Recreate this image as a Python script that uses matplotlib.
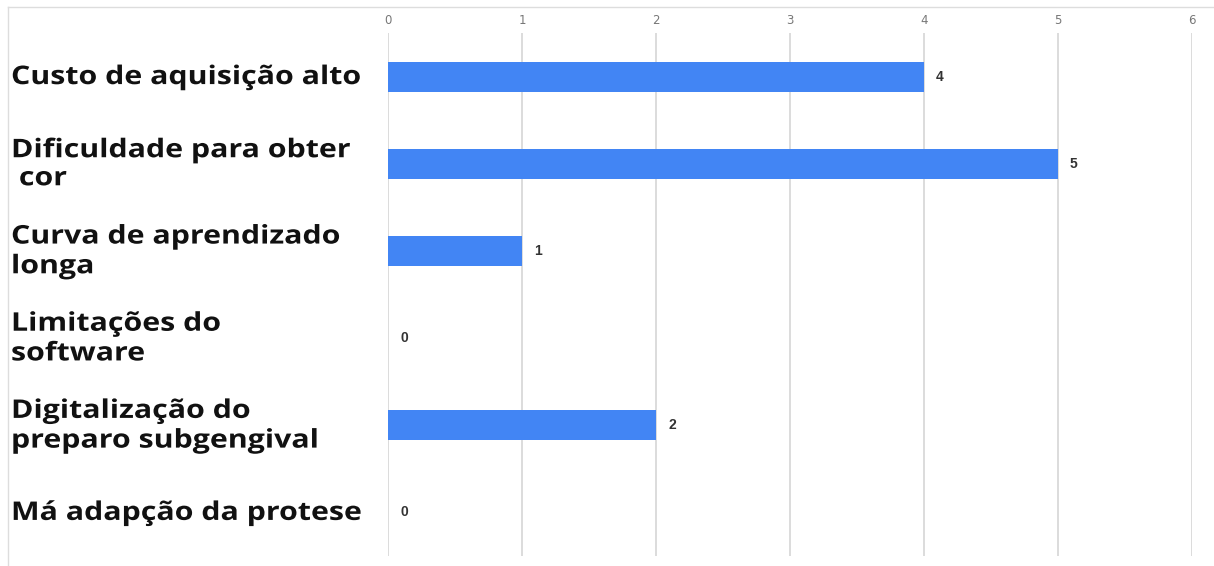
import matplotlib.pyplot as plt
from matplotlib.lines import Line2D
from matplotlib import transforms
from matplotlib.patheffects import AbstractPathEffect

categorias = [
    "Custo de aquisição alto",
    "Dificuldade para obter\n cor",
    "Curva de aprendizado\nlonga",
    "Limitações do\nsoftware",
    "Digitalização do\npreparo subgengival",
    "Má adapção da protese",
]
valores = [4, 5, 1, 0, 2, 0]
ticks_x = [0, 1, 2, 3, 4, 5, 6]


class Alargar(AbstractPathEffect):
    """Estica o texto na horizontal a partir de x0 (pixels)."""

    def __init__(self, sx, x0):
        super().__init__()
        self.sx = sx
        self.x0 = x0

    def draw_path(self, renderer, gc, tpath, affine, rgbFace=None):
        a = affine + transforms.Affine2D().translate(-self.x0, 0).scale(self.sx, 1).translate(self.x0, 0)
        renderer.draw_path(gc, tpath, a, rgbFace)


W, H = 1214, 566
fig = plt.figure(figsize=(W / 100, H / 100), dpi=100)
ax = fig.add_axes([388 / W, 1 - 556 / H, (1192 - 388) / W, (556 - 33) / H])

pos = list(range(len(categorias)))
ax.barh(pos, valores, height=0.345, color="#4285f4", zorder=2)

ax.set_xlim(0, 6)
ax.set_ylim(len(categorias) - 0.5, -0.5)
ax.set_xticks(ticks_x)
ax.xaxis.tick_top()
ax.tick_params(axis="x", length=0, pad=4.5, labelsize=8.5, labelcolor="#777777")
ax.set_yticks([])
for s in ax.spines.values():
    s.set_visible(False)
ax.grid(axis="x", color="#d9d9d9", linewidth=1.3, zorder=0)

for y, v in zip(pos, valores):
    ax.text(v + 0.09, y, str(v), va="center", ha="left", fontsize=10,
            fontweight="bold", color="#333333", family="Liberation Sans")

# rótulos das categorias à esquerda
x0 = 11
trans = transforms.blended_transform_factory(fig.transFigure, ax.transData)
espaco = [1.13, 1.05, 1.13, 1.13, 1.13, 1.13]
for y, nome, ls in zip(pos, categorias, espaco):
    ax.text(x0 / W, y, nome, va="center", ha="left", fontsize=18.5,
            fontweight="bold", color="#111111", family="Open Sans",
            linespacing=ls, transform=trans, clip_on=False,
            path_effects=[Alargar(1.18, x0)])

# moldura fina em cima e à esquerda
fig.add_artist(Line2D([8 / W, 1], [1 - 7 / H, 1 - 7 / H], color="#dddddd", linewidth=1))
fig.add_artist(Line2D([8 / W, 8 / W], [0, 1 - 7 / H], color="#dddddd", linewidth=1))

fig.savefig("out.png", dpi=100, facecolor="white")
